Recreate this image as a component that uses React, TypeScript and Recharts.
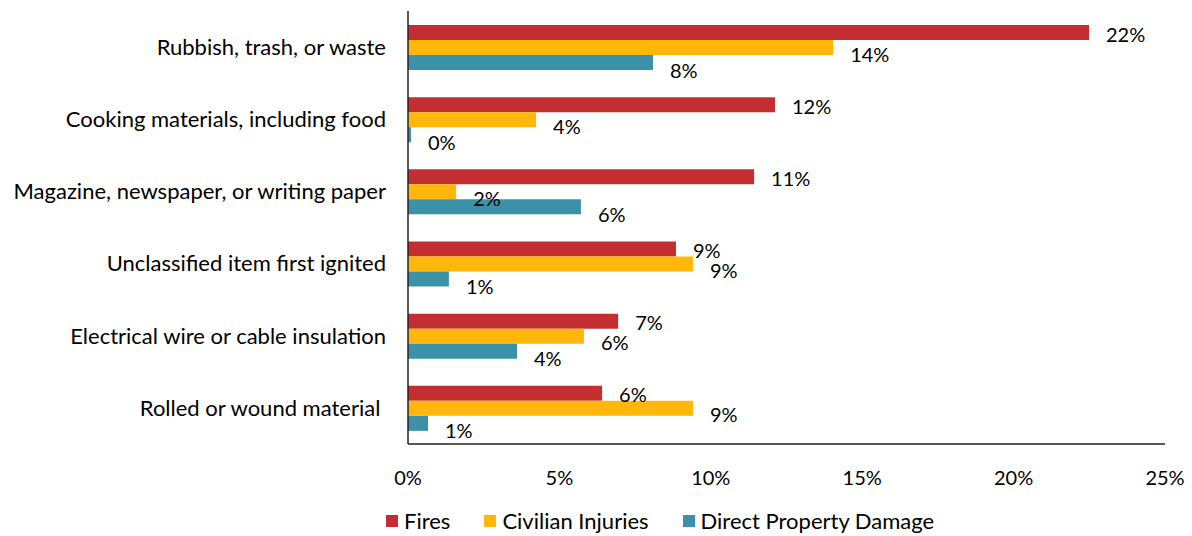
import React from 'react';
import { BarChart, Bar, XAxis, YAxis, Legend, LabelList } from 'recharts';

const categories = [
  'Rubbish, trash, or waste',
  'Cooking materials, including food',
  'Magazine, newspaper, or writing paper',
  'Unclassified item first ignited',
  'Electrical wire or cable insulation',
  'Rolled or wound material\u00a0',
];
const fires = [22.49, 12.12, 11.43, 8.85, 6.94, 6.41];
const civilianInjuries = [14.04, 4.23, 1.59, 9.41, 5.81, 9.41];
const propertyDamage = [8.09, 0.1, 5.71, 1.35, 3.6, 0.66];
const xTicks = [0, 5, 10, 15, 20, 25];

const FONT = 'Lato, "Open Sans", sans-serif';

const series = [
  { key: 'fires', name: 'Fires', color: '#C32E30', dy: 1 },
  { key: 'injuries', name: 'Civilian Injuries', color: '#FFB70B', dy: 6 },
  { key: 'damage', name: 'Direct Property Damage', color: '#3A91A8', dy: 7 },
];

const data = categories.map((c, i) => ({
  category: c,
  fires: fires[i],
  injuries: civilianInjuries[i],
  damage: propertyDamage[i],
}));

const makeLabel = (dy: number) => (props: any) => {
  const { x, y, width, height, value } = props;
  return (
    <text
      x={Number(x) + Number(width) + 17}
      y={Number(y) + Number(height) / 2 + dy}
      dominantBaseline="central"
      fontSize={20}
      fontFamily={FONT}
      fill="#000"
    >
      {`${Math.round(Number(value))}%`}
    </text>
  );
};

const renderLegend = () => (
  <div style={{ display: 'flex', alignItems: 'center', fontFamily: FONT, fontSize: 22, color: '#000' }}>
    {series.map((s, i) => (
      <div key={s.key} style={{ display: 'flex', alignItems: 'center', marginRight: i < series.length - 1 ? 34 : 0 }}>
        <div style={{ width: 12, height: 12, background: s.color, marginRight: 6 }} />
        <span>{s.name}</span>
      </div>
    ))}
  </div>
);

export default function App() {
  return (
    <div style={{ position: 'absolute', left: 0, top: 0, background: '#fff' }}>
      <BarChart
        width={1192}
        height={536}
        data={data}
        layout="vertical"
        margin={{ top: 11, right: 27, left: 0, bottom: 1 }}
        barGap={0}
      >
        <XAxis
          type="number"
          domain={[0, 25]}
          ticks={xTicks}
          tickFormatter={(v) => `${v}%`}
          axisLine={{ stroke: '#222', strokeWidth: 1.5 }}
          tickLine={false}
          tickSize={0}
          tickMargin={27}
          height={63}
          tick={{ fontSize: 20, fontFamily: FONT, fill: '#000' }}
        />
        <YAxis
          type="category"
          dataKey="category"
          width={408}
          axisLine={{ stroke: '#222', strokeWidth: 1.5 }}
          tickLine={false}
          tickSize={0}
          tickMargin={22}
          interval={0}
          tick={{ fontSize: 22, fontFamily: FONT, fill: '#000' }}
        />
        <Legend
          verticalAlign="bottom"
          height={28}
          content={renderLegend}
          wrapperStyle={{ left: 386, width: 700 }}
        />
        {series.map((s) => (
          <Bar key={s.key} dataKey={s.key} name={s.name} fill={s.color} barSize={15} isAnimationActive={false}>
            <LabelList dataKey={s.key} content={makeLabel(s.dy)} />
          </Bar>
        ))}
      </BarChart>
    </div>
  );
}
